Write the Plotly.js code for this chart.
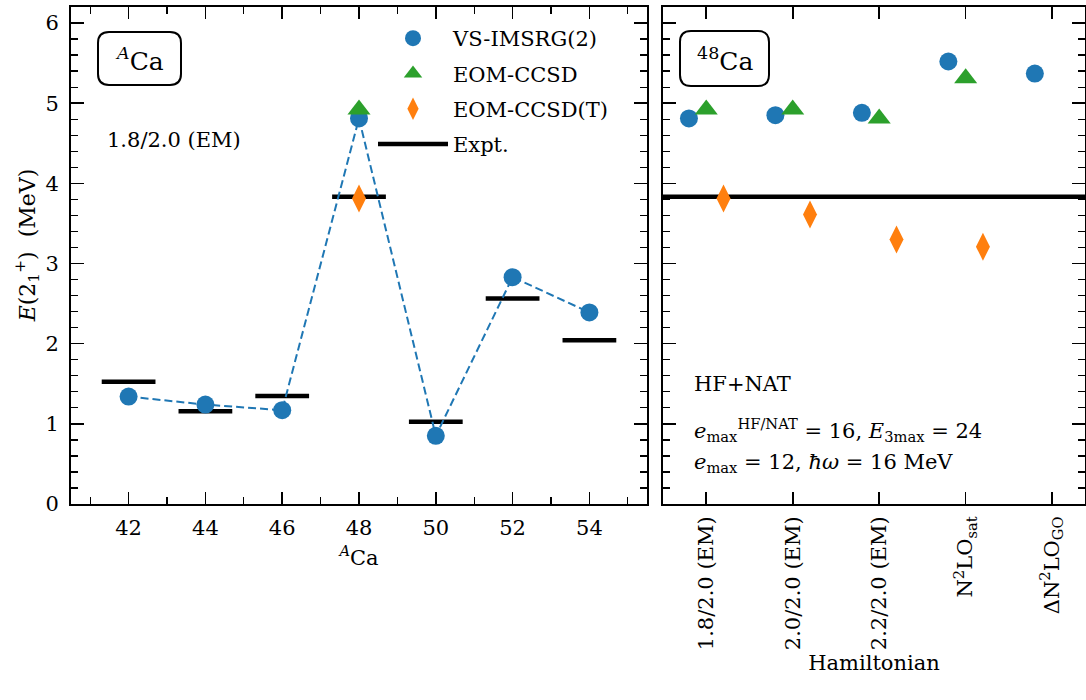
<!DOCTYPE html>
<html><head><meta charset="utf-8">
<script src="https://cdn.plot.ly/plotly-3.0.1.min.js"></script>
<style>html,body{margin:0;padding:0;background:#fff}#chart{width:1086px;height:700px}</style>
</head><body><div id="chart"></div>
<script>
// ---------- data ----------
const massNumbers = [42, 44, 46, 48, 50, 52, 54];
const vsImsrgCa = [1.34, 1.24, 1.17, 4.81, 0.85, 2.83, 2.39];
const exptCa = [1.525, 1.157, 1.346, 3.832, 1.027, 2.563, 2.043];
const eomMass = [48];
const eomCa = [4.92];
const eomTCa = [3.81];

const hamiltonianLabels = ['1.8/2.0 (EM)', '2.0/2.0 (EM)', '2.2/2.0 (EM)',
  'N<sup>2</sup>LO<sub>sat</sub>', 'ΔN<sup>2</sup>LO<sub>GO</sub>'];
const hamIndex = [0, 1, 2, 3, 4];
const vsImsrg48 = [4.81, 4.85, 4.88, 5.52, 5.37];
const eom48 = [4.92, 4.92, 4.81, 5.31, null];
const eomT48 = [3.81, 3.61, 3.30, 3.21, null];
const expt48 = 3.832;

// ---------- styling helpers ----------
const BLUE = '#1f77b4', GREEN = '#2ca02c', ORANGE = '#ff7f0e';
const FONT = '"DejaVu Serif", serif';
const W = 1086, H = 700, ML = 71, MR = 1, MT = 7, MB = 196;
const PW = W - ML - MR, PH = H - MT - MB;
const px = v => (v - ML) / PW;
const py = v => 1 - (v - MT) / PH;
const barHalf = 0.7;
const offsetVS = -0.2, offsetEOM = 0, offsetT = 0.2;
const xRangeA = [40.5, 55.5];
const xRangeH = [-0.5, 4.38];

function roundedBox(x0, y0, x1, y1, r) {
  const X = v => px(v).toFixed(5), Y = v => py(v).toFixed(5);
  return 'M' + X(x0 + r) + ',' + Y(y0) + ' L' + X(x1 - r) + ',' + Y(y0) +
    ' Q' + X(x1) + ',' + Y(y0) + ' ' + X(x1) + ',' + Y(y0 + r) +
    ' L' + X(x1) + ',' + Y(y1 - r) +
    ' Q' + X(x1) + ',' + Y(y1) + ' ' + X(x1 - r) + ',' + Y(y1) +
    ' L' + X(x0 + r) + ',' + Y(y1) +
    ' Q' + X(x0) + ',' + Y(y1) + ' ' + X(x0) + ',' + Y(y1 - r) +
    ' L' + X(x0) + ',' + Y(y0 + r) +
    ' Q' + X(x0) + ',' + Y(y0) + ' ' + X(x0 + r) + ',' + Y(y0) + ' Z';
}

// expt bars for left panel
const exptX = [], exptY = [];
massNumbers.forEach((a, i) => {
  exptX.push(a - barHalf, a + barHalf, null);
  exptY.push(exptCa[i], exptCa[i], null);
});

const traces = [
  { x: exptX, y: exptY, xaxis: 'x', yaxis: 'y', mode: 'lines', name: 'Expt.',
    line: { color: 'black', width: 4.5 }, legendrank: 4, legendgroup: 'd', hoverinfo: 'skip' },
  { x: xRangeH, y: [expt48, expt48], xaxis: 'x2', yaxis: 'y2', mode: 'lines',
    line: { color: 'black', width: 4.5 }, showlegend: false, hoverinfo: 'skip' },
  { x: massNumbers, y: vsImsrgCa, xaxis: 'x', yaxis: 'y', mode: 'lines+markers', name: 'VS-IMSRG(2)',
    line: { color: BLUE, width: 2, dash: '8px,4px' }, marker: { color: BLUE, size: 18, symbol: 'circle' },
    legendrank: 1, legendgroup: 'a', showlegend: false },
  { x: [null], y: [null], xaxis: 'x', yaxis: 'y', mode: 'markers', name: 'VS-IMSRG(2)',
    marker: { color: BLUE, size: 18, symbol: 'circle' }, legendrank: 1, legendgroup: 'a' },
  { x: eomMass, y: eomCa, xaxis: 'x', yaxis: 'y', mode: 'markers', name: 'EOM-CCSD',
    marker: { color: GREEN, size: 20, symbol: 'triangle-up' }, legendrank: 2, legendgroup: 'b' },
  { x: eomMass, y: eomTCa, xaxis: 'x', yaxis: 'y', mode: 'markers', name: 'EOM-CCSD(T)',
    marker: { color: ORANGE, size: 20, symbol: 'diamond-tall' }, legendrank: 3, legendgroup: 'c' },
  { x: hamIndex.map(i => i + offsetVS), y: vsImsrg48, xaxis: 'x2', yaxis: 'y2', mode: 'markers',
    marker: { color: BLUE, size: 18, symbol: 'circle' }, showlegend: false },
  { x: hamIndex.map(i => i + offsetEOM), y: eom48, xaxis: 'x2', yaxis: 'y2', mode: 'markers',
    marker: { color: GREEN, size: 20, symbol: 'triangle-up' }, showlegend: false },
  { x: hamIndex.map(i => i + offsetT), y: eomT48, xaxis: 'x2', yaxis: 'y2', mode: 'markers',
    marker: { color: ORANGE, size: 20, symbol: 'diamond-tall' }, showlegend: false }
];

const yCommon = {
  range: [0, 6.2], tickvals: [0, 1, 2, 3, 4, 5, 6], ticks: 'inside', ticklen: 13, tickwidth: 1.6,
  tickcolor: 'black', showline: true, linecolor: 'black', linewidth: 2, mirror: 'ticks',
  showgrid: false, zeroline: false,
  minor: { ticks: 'inside', ticklen: 7, tickwidth: 1.3, dtick: 0.2, tick0: 0, tickcolor: 'black', showgrid: false }
};

const layout = {
  width: W, height: H, margin: { l: ML, r: MR, t: MT, b: MB },
  paper_bgcolor: 'white', plot_bgcolor: 'white',
  font: { family: FONT, size: 21, color: 'black' },
  showlegend: true,
  legend: { x: px(373), y: py(18), xanchor: 'left', yanchor: 'top', bgcolor: 'rgba(0,0,0,0)',
    font: { family: FONT, size: 21 }, itemwidth: 70, traceorder: 'grouped', tracegroupgap: 5 },
  xaxis: {
    domain: [0, px(647)], range: xRangeA, tickvals: massNumbers, ticks: 'inside', ticklen: 12,
    tickwidth: 1.6, tickcolor: 'black', showline: true, linecolor: 'black', linewidth: 2,
    mirror: 'ticks', showgrid: false, zeroline: false, ticklabelstandoff: 4,
    minor: { ticks: 'inside', ticklen: 7, tickwidth: 1.3, dtick: 1, tick0: 41, tickcolor: 'black', showgrid: false },
    title: { text: '<sup><i>A</i></sup>Ca', standoff: 11, font: { size: 21 } }
  },
  yaxis: Object.assign({}, yCommon, {
    anchor: 'x', ticklabelstandoff: 6,
    title: { text: '&nbsp;&nbsp;&nbsp;<i>E</i>(2<sub>1</sub><sup>+</sup>)&nbsp;&nbsp;(MeV)', standoff: 4, font: { size: 22 } }
  }),
  xaxis2: {
    domain: [px(663), 1], range: xRangeH, tickvals: hamIndex, ticktext: hamiltonianLabels,
    tickangle: -90, ticks: 'inside', ticklen: 12, tickwidth: 1.6, tickcolor: 'black',
    showline: true, linecolor: 'black', linewidth: 2, mirror: 'ticks', showgrid: false, zeroline: false,
    anchor: 'y2', ticklabelstandoff: 2,
    title: { text: 'Hamiltonian', standoff: 6, font: { size: 21 } }
  },
  yaxis2: Object.assign({}, yCommon, { anchor: 'x2', showticklabels: false }),
  shapes: [
    { type: 'path', xref: 'paper', yref: 'paper', path: roundedBox(98, 32, 181, 85, 11),
      line: { color: 'black', width: 2 }, fillcolor: 'white', layer: 'above' },
    { type: 'path', xref: 'paper', yref: 'paper', path: roundedBox(680, 31, 769, 86, 11),
      line: { color: 'black', width: 2 }, fillcolor: 'white', layer: 'above' }
  ],
  annotations: [
    { xref: 'paper', yref: 'paper', x: px(139.5), y: py(59), text: '<sup><i>A</i></sup>Ca', showarrow: false,
      font: { size: 25 }, xanchor: 'center', yanchor: 'middle' },
    { xref: 'paper', yref: 'paper', x: px(724.5), y: py(59), text: '<sup>48</sup>Ca', showarrow: false,
      font: { size: 25 }, xanchor: 'center', yanchor: 'middle' },
    { xref: 'paper', yref: 'paper', x: px(105), y: py(140), text: '1.8/2.0 (EM)', showarrow: false,
      font: { size: 21 }, xanchor: 'left', yanchor: 'middle' },
    { xref: 'paper', yref: 'paper', x: px(692), y: py(384), text: 'HF+NAT', showarrow: false,
      font: { size: 21 }, xanchor: 'left', yanchor: 'middle' },
    { xref: 'paper', yref: 'paper', x: px(692), y: py(430),
      text: '<i>e</i><sub>max</sub><sup>HF/NAT</sup> = 16, <i>E</i><sub>3max</sub> = 24', showarrow: false,
      font: { size: 21 }, xanchor: 'left', yanchor: 'middle' },
    { xref: 'paper', yref: 'paper', x: px(692), y: py(463),
      text: '<i>e</i><sub>max</sub> = 12, <i>ħω</i> = 16 MeV', showarrow: false,
      font: { size: 21 }, xanchor: 'left', yanchor: 'middle' }
  ]
};

Plotly.newPlot('chart', traces, layout, { staticPlot: true, displayModeBar: false });
</script>
</body></html>
